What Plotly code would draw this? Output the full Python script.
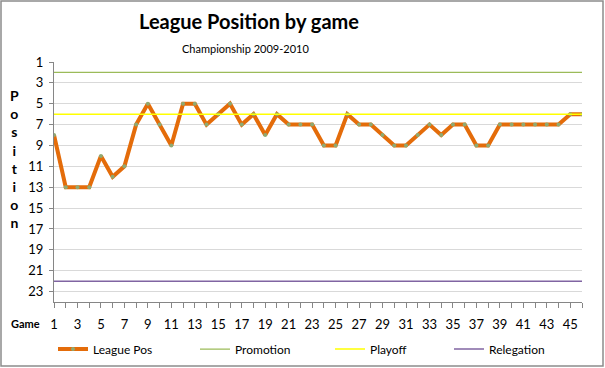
import plotly.graph_objects as go

# ---- data ----
games = list(range(1, 47))
league_pos = [8, 13, 13, 13, 10, 12, 11, 7, 5, 7,
              9, 5, 5, 7, 6, 5, 7, 6, 8, 6,
              7, 7, 7, 9, 9, 6, 7, 7, 8, 9,
              9, 8, 7, 8, 7, 7, 9, 9, 7, 7,
              7, 7, 7, 7, 6, 6]
promotion_pos = 2
playoff_pos = 6
relegation_pos = 22

x_ticks = list(range(1, 47, 2))
y_ticks = list(range(1, 25, 2))

# ---- layout geometry (pixels) ----
W, H = 605, 368
L, R, T, B = 54, 23, 62, 66
PW, PH = W - L - R, H - T - B


def px(x):
    return (x - L) / PW


def py(y):
    return 1 - (y - T) / PH


FONT = "Lato, Calibri, 'Open Sans', sans-serif"

fig = go.Figure()
fig.add_trace(go.Scatter(
    x=games, y=league_pos, name="League Pos", mode="lines+markers",
    line=dict(color="#E46C0A", width=4),
    marker=dict(color="#8FAA72", size=4),
    legend="legend",
))
fig.add_trace(go.Scatter(
    x=[games[0], games[-1]], y=[promotion_pos, promotion_pos], name="Promotion",
    mode="lines", line=dict(color="#9BBB59", width=1.25), legend="legend2",
))
fig.add_trace(go.Scatter(
    x=[games[0], games[-1]], y=[playoff_pos, playoff_pos], name="Playoff",
    mode="lines", line=dict(color="#FFFF00", width=1.5), legend="legend3",
))
fig.add_trace(go.Scatter(
    x=[games[0], games[-1]], y=[relegation_pos, relegation_pos], name="Relegation",
    mode="lines", line=dict(color="#8064A2", width=1.5), legend="legend4",
))

leg_common = dict(orientation="h", yanchor="middle", y=py(349), xanchor="left",
                  font=dict(family=FONT, size=12, color="#000"),
                  bgcolor="rgba(0,0,0,0)")

fig.update_layout(
    width=W, height=H,
    showlegend=True,
    margin=dict(l=L, r=R, t=T, b=B, pad=0, autoexpand=False),
    paper_bgcolor="white", plot_bgcolor="white",
    font=dict(family=FONT, size=13, color="#000"),
    title=dict(text="<b>League Position by game</b>", x=px(249), xref="paper",
               xanchor="center", y=1 - 22 / H, yref="container", yanchor="middle",
               font=dict(family=FONT, size=20, color="#000")),
    legend=dict(x=px(53), **leg_common),
    legend2=dict(x=px(195), **leg_common),
    legend3=dict(x=px(330), **leg_common),
    legend4=dict(x=px(449), **leg_common),
    xaxis=dict(range=[1, 46], tickmode="array", tickvals=x_ticks,
               ticktext=[str(v) for v in x_ticks],
               ticks="outside", ticklen=5, tickcolor="#868686",
               minor=dict(ticks="outside", ticklen=5, tickcolor="#868686", dtick=1, tick0=1,
                          showgrid=False),
               showline=True, linecolor="#868686", linewidth=1,
               showgrid=False, zeroline=False, ticklabelstandoff=5,
               tickfont=dict(size=13)),
    yaxis=dict(range=[24, 1], tickmode="array", tickvals=y_ticks,
               ticktext=[str(v) for v in y_ticks],
               ticks="outside", ticklen=4, tickcolor="#868686",
               showline=True, linecolor="#868686", linewidth=1,
               showgrid=True, gridcolor="#D9D9D9", gridwidth=1,
               zeroline=False, ticklabelstandoff=3, tickfont=dict(size=13)),
    annotations=[
        dict(text="Championship 2009-2010", x=px(245), y=py(48), xref="paper", yref="paper",
             xanchor="center", yanchor="middle", showarrow=False,
             font=dict(family=FONT, size=11, color="#000")),
        dict(text="<b>P<br>o<br>s<br>i<br>t<br>i<br>o<br>n</b>", x=px(14), y=py(159),
             xref="paper", yref="paper", xanchor="center", yanchor="middle",
             showarrow=False, align="center",
             font=dict(family=FONT, size=14, color="#000")),
        dict(text="<b>Game</b>", x=px(25), y=py(323), xref="paper", yref="paper",
             xanchor="center", yanchor="middle", showarrow=False,
             font=dict(family=FONT, size=11, color="#000")),
    ],
    shapes=[
        dict(type="rect", xref="paper", yref="paper",
             x0=px(1), x1=px(603), y0=py(1), y1=py(366),
             line=dict(color="#8C8C8C", width=1.5), layer="below"),
    ],
)

fig.write_html("out.html", config={"displayModeBar": False},
               post_script="document.body.style.margin='0';document.body.style.overflow='hidden';")
